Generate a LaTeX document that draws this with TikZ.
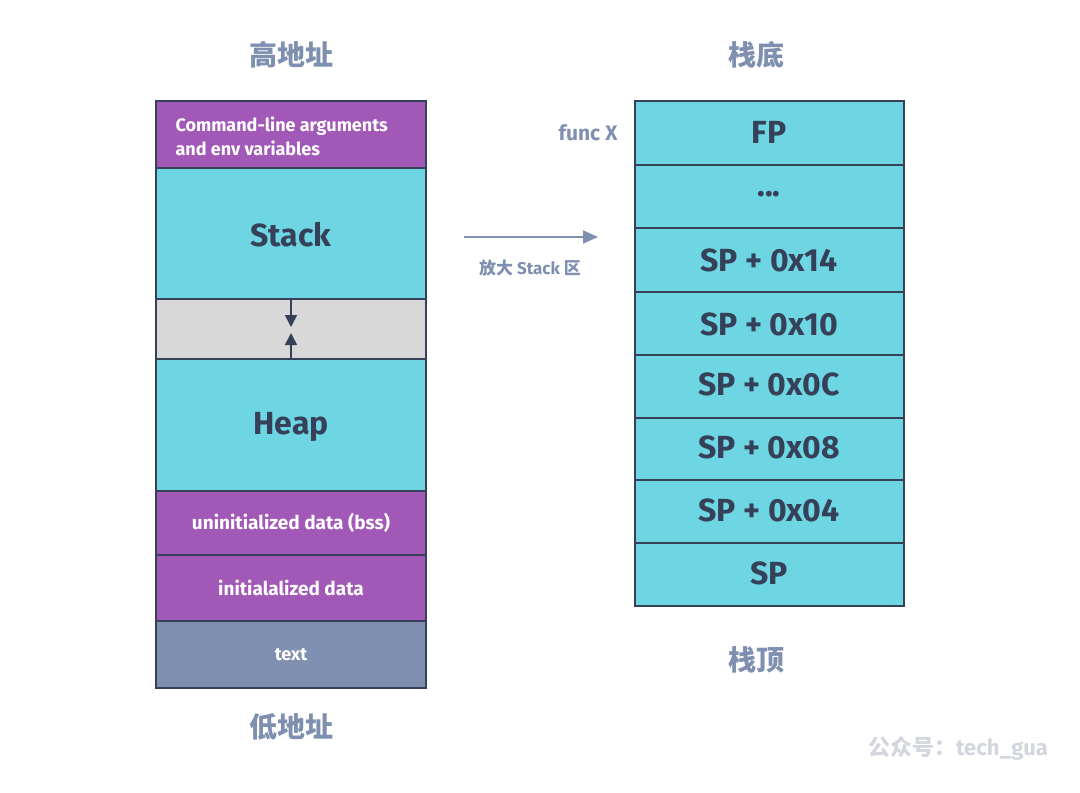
\documentclass[tikz,border=0pt]{standalone}
\usepackage{fontspec}
\setmainfont{Fira Sans}
\newfontfamily\cjk{Noto Sans CJK SC}
\usetikzlibrary{arrows.meta}
\definecolor{purp}{HTML}{A258B7}
\definecolor{cyn}{HTML}{6DD6E2}
\definecolor{gry}{HTML}{D8D8D8}
\definecolor{slate}{HTML}{7F8FB0}
\definecolor{dk}{HTML}{364159}
\definecolor{wm}{HTML}{D3D6DE}
\tikzset{
  cell/.style={draw=dk, line width=2.6pt},
  celltxt/.style={font=\bfseries\fontsize{#1}{#1}\selectfont, text=dk},
  wtxt/.style={font=\bfseries\fontsize{#1}{24}\selectfont, text=white, align=left},
  lbl/.style={font=\cjk\bfseries\fontsize{28}{28}\selectfont, text=slate},
}
\begin{document}
\begin{tikzpicture}[x=1pt,y=-1pt]
\useasboundingbox (0,0) rectangle (1080,793);
% left column
\fill[purp] (156,101) rectangle (426,168);
\fill[cyn] (156,168) rectangle (426,299);
\fill[gry] (156,299) rectangle (426,359);
\fill[cyn] (156,359) rectangle (426,491);
\fill[purp] (156,491) rectangle (426,555);
\fill[purp] (156,555) rectangle (426,621);
\fill[slate] (156,621) rectangle (426,688);
\foreach \y in {168,299,359,491,555,621} \draw[dk, line width=2.6pt] (156,\y) -- (426,\y);
\draw[cell] (156,101) rectangle (426,688);
\node[wtxt=18, anchor=west] (cmd) at (172,136) {Command-line arguments\\and env variables};
\node[celltxt=32] (stk) at (291,235) {Stack};
\node[celltxt=32] (heap) at (291,427) {Heap};
\node[wtxt=19] (bss) at (291,523) {uninitialized data (bss)};
\node[wtxt=19] (init) at (291,588) {initialalized data};
\node[wtxt=18] (txt) at (291,655) {text};
\coordinate (gtop) at (291,299);
\coordinate (gbot) at (291,359);
\coordinate (gdn) at (291,327);
\coordinate (gup) at (291,333);
\draw[dk, line width=1.6pt, -{Triangle[length=12pt,width=12pt]}] (gtop) -- (gdn);
\draw[dk, line width=1.6pt, -{Triangle[length=12pt,width=12pt]}] (gbot) -- (gup);
% right column
\fill[cyn] (635,101) rectangle (904,606);
\foreach \y in {165,228,292,355,418,480,543} \draw[dk, line width=2.6pt] (635,\y) -- (904,\y);
\draw[cell] (635,101) rectangle (904,606);
\node[celltxt=32] (fp) at (769,132) {FP};
\node[celltxt=32] (dots) at (769,194) {...};
\node[celltxt=32] (s14) at (769,260) {SP + 0x14};
\node[celltxt=32] (s10) at (769,324) {SP + 0x10};
\node[celltxt=32] (s0c) at (769,384) {SP + 0x0C};
\node[celltxt=32] (s08) at (769,447) {SP + 0x08};
\node[celltxt=32] (s04) at (769,510) {SP + 0x04};
\node[celltxt=32] (sp) at (769,573) {SP};
\node[font=\bfseries\fontsize{21}{21}\selectfont, text=slate, anchor=east] (fx) at (621,133) {func X};
% arrow
\coordinate (a1) at (464,237);
\coordinate (a2) at (598,237);
\draw[slate, line width=2pt, -{Triangle[length=15pt,width=13pt]}] (a1) -- (a2);
\node[font=\bfseries\fontsize{17}{17}\selectfont, text=slate] (zoomlbl) at (530,268) {{\cjk 放大} Stack {\cjk 区}};
% labels
\node[lbl] (hi) at (291,55) {高地址};
\node[lbl] (lo) at (291,727) {低地址};
\node[lbl] (bot) at (756,55) {栈底};
\node[lbl] (top) at (756,660) {栈顶};
\node[font=\bfseries\fontsize{22}{22}\selectfont, text=wm] (wmk) at (958,748) {{\cjk 公众号：}tech\_gua};
\end{tikzpicture}
\end{document}
